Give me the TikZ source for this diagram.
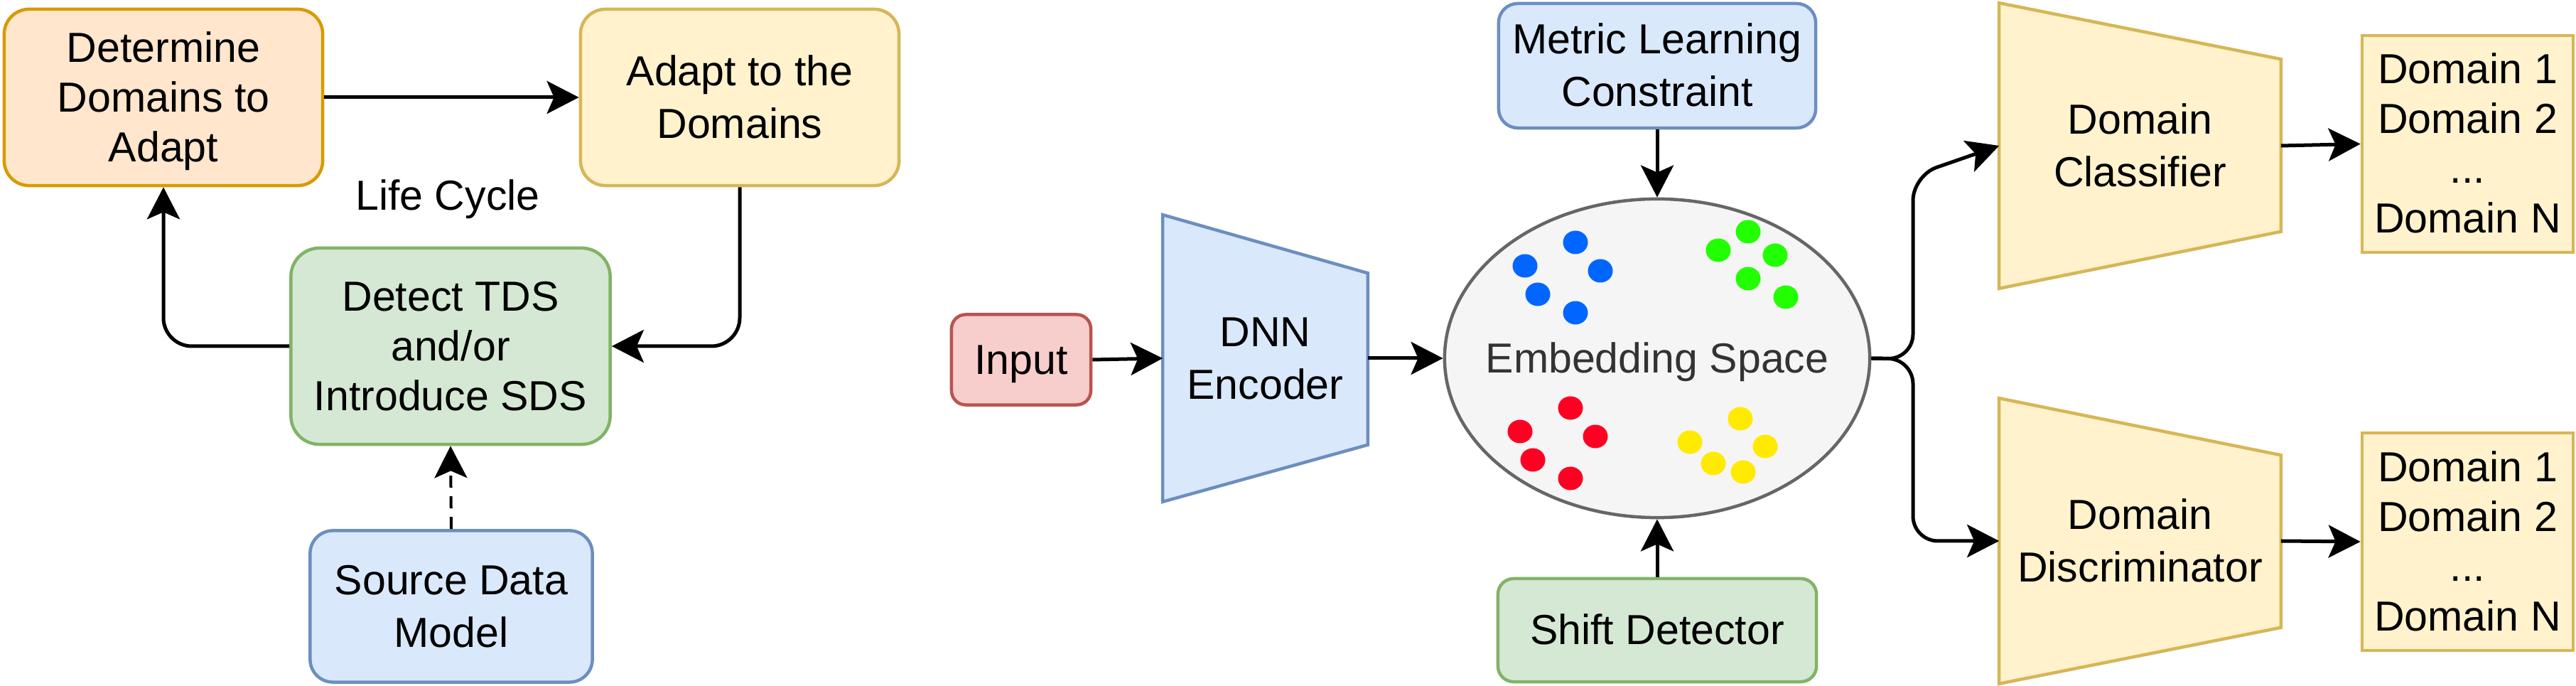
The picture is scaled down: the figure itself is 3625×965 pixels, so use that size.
\documentclass[tikz,border=0pt]{standalone}
\usepackage{fontspec}
\setmainfont{Liberation Sans}
\usepackage{tikz}
\usetikzlibrary{arrows.meta,shapes.geometric}
\usepackage{xcolor}
\definecolor{orangeFill}{HTML}{FFE6CC}
\definecolor{orangeLine}{HTML}{D79B00}
\definecolor{yellowFill}{HTML}{FFF2CC}
\definecolor{yellowLine}{HTML}{D6B656}
\definecolor{greenFill}{HTML}{D5E8D4}
\definecolor{greenLine}{HTML}{82B366}
\definecolor{blueFill}{HTML}{DAE8FC}
\definecolor{blueLine}{HTML}{6C8EBF}
\definecolor{redFill}{HTML}{F8CECC}
\definecolor{redLine}{HTML}{B85450}
\definecolor{grayFill}{HTML}{F5F5F5}
\definecolor{grayLine}{HTML}{666666}
\definecolor{grayText}{HTML}{333333}
\definecolor{dotBlue}{HTML}{0066FF}
\definecolor{dotGreen}{HTML}{22FF00}
\definecolor{dotRed}{HTML}{FF0022}
\definecolor{dotYellow}{HTML}{FFEA00}
\newcommand{\tstrut}{\rule[-0.25em]{0pt}{1.19em}}

\begin{document}
\begin{tikzpicture}[x=0.01cm, y=-0.01cm, >={Stealth[length=0.45cm, width=0.46cm, inset=0.1cm]},
    txt/.style={align=center, inner sep=0pt, font=\fontsize{16.8}{19.9}\selectfont},
    box/.style={txt, draw, line width=0.045cm, rounded corners=0.35cm},
    trap/.style={draw=yellowLine, fill=yellowFill, line width=0.045cm},
    link/.style={->, line width=0.05cm}]
    \useasboundingbox (0,0) rectangle (3625,965);

    % Life cycle boxes
    \node[box, fill=orangeFill, draw=orangeLine, minimum width=4.48cm, minimum height=2.48cm] (determine) at (230,137) {\tstrut Determine\\Domains to\\Adapt\tstrut};
    \node[box, fill=yellowFill, draw=yellowLine, minimum width=4.48cm, minimum height=2.48cm] (adapt) at (1041,137) {\tstrut Adapt to the\\Domains\tstrut};
    \node[box, fill=greenFill, draw=greenLine, rounded corners=0.4cm, minimum width=4.49cm, minimum height=2.76cm] (detect) at (634,487) {\tstrut Detect TDS\\and/or\\Introduce SDS\tstrut};
    \node[box, fill=blueFill, draw=blueLine, rounded corners=0.32cm, minimum width=3.97cm, minimum height=2.13cm] (source) at (635,853) {\tstrut Source Data\\Model\tstrut};
    \node[txt] (cycle) at (630,275) {\tstrut Life Cycle\tstrut};

    % Life cycle arrows
    \draw[link] (determine.east) -- (adapt.west);
    \draw[link, rounded corners=0.4cm] (adapt.south) |- (detect.east);
    \draw[link, rounded corners=0.4cm] (detect.west) -| (determine.south);
    \draw[link, line width=0.04cm, dash pattern=on 0.17cm off 0.12cm] (source.north) -- (detect.south);

    % Encoder and embedding space
    \node[box, fill=redFill, draw=redLine, rounded corners=0.2cm, minimum width=1.96cm, minimum height=1.27cm] (input) at (1437,506) {\tstrut Input\tstrut};
    \node[txt, minimum width=2.87cm, minimum height=4.02cm] (encoder) at (1780.5,504) {};
    \draw[line width=0.045cm, draw=blueLine, fill=blueFill] (encoder.north west) -- ([yshift=-0.82cm]encoder.north east) -- ([yshift=0.80cm]encoder.south east) -- (encoder.south west) -- cycle;
    \node[txt] at (encoder) {\tstrut DNN\\Encoder\tstrut};
    \node[ellipse, draw=grayLine, fill=grayFill, line width=0.045cm, inner sep=0pt, minimum width=5.98cm, minimum height=4.48cm] (embed) at (2332,504) {};
    \node[txt, text=grayText] at (embed) {\tstrut Embedding Space\tstrut};
    \node[box, fill=blueFill, draw=blueLine, rounded corners=0.27cm, minimum width=4.46cm, minimum height=1.75cm] (metric) at (2332,92.5) {\tstrut Metric Learning\\Constraint\tstrut};
    \node[box, fill=greenFill, draw=greenLine, rounded corners=0.22cm, minimum width=4.48cm, minimum height=1.45cm] (shift) at (2332,886.5) {\tstrut Shift Detector\tstrut};

    % Clusters
    \foreach \px/\py in {2217/341, 2146/374, 2252/381, 2164/414, 2217/440}
        \fill[dotBlue] (\px,\py) ellipse [x radius=0.175cm, y radius=0.165cm];
    \foreach \px/\py in {2460/326, 2418/352, 2498/359, 2460/392, 2513/418}
        \fill[dotGreen] (\px,\py) ellipse [x radius=0.175cm, y radius=0.165cm];
    \foreach \px/\py in {2210/574, 2139/607, 2245/614, 2157/647, 2210/673}
        \fill[dotRed] (\px,\py) ellipse [x radius=0.175cm, y radius=0.165cm];
    \foreach \px/\py in {2449/589, 2378/622, 2484/628, 2411/652, 2453/664}
        \fill[dotYellow] (\px,\py) ellipse [x radius=0.175cm, y radius=0.165cm];

    \draw[link] (input.east) -- (encoder.west);
    \draw[link] (encoder.east) -- (embed.west);
    \draw[link] (metric.south) -- (embed.north);
    \draw[link] (shift.north) -- (embed.south);

    % Heads
    \node[txt, minimum width=3.95cm, minimum height=4.00cm] (classifier) at (3011.5,205) {};
    \draw[trap] (classifier.north west) -- ([yshift=-0.79cm]classifier.north east) -- ([yshift=0.80cm]classifier.south east) -- (classifier.south west) -- cycle;
    \node[txt] at (classifier) {\tstrut Domain\\Classifier\tstrut};
    \node[txt, minimum width=3.95cm, minimum height=4.00cm] (discrim) at (3011.5,761) {};
    \draw[trap] (discrim.north west) -- ([yshift=-0.80cm]discrim.north east) -- ([yshift=0.79cm]discrim.south east) -- (discrim.south west) -- cycle;
    \node[txt] at (discrim) {\tstrut Domain\\Discriminator\tstrut};
    \node[box, sharp corners, fill=yellowFill, draw=yellowLine, minimum width=2.97cm, minimum height=3.05cm] (labelsA) at (3472.5,202.5) {\tstrut Domain 1\\Domain 2\\...\\Domain N\tstrut};
    \node[box, sharp corners, fill=yellowFill, draw=yellowLine, minimum width=2.97cm, minimum height=3.06cm] (labelsB) at (3472.5,762) {\tstrut Domain 1\\Domain 2\\...\\Domain N\tstrut};

    % Fork to the heads
    \coordinate (fork) at (2692,505);
    \coordinate (forkup) at (2692,247);
    \draw[link, rounded corners=0.35cm] (embed.east) -- (fork) -- (forkup) -- (classifier.west);
    \draw[link, rounded corners=0.35cm] (embed.east) -- (fork) |- (discrim.west);
    \draw[link] (classifier.east) -- (labelsA.west);
    \draw[link] (discrim.east) -- (labelsB.west);
\end{tikzpicture}
\end{document}
